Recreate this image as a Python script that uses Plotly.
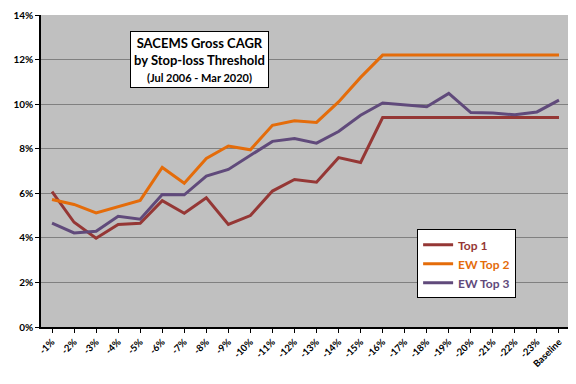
import plotly.graph_objects as go

categories = ["-1%", "-2%", "-3%", "-4%", "-5%", "-6%", "-7%", "-8%", "-9%", "-10%",
              "-11%", "-12%", "-13%", "-14%", "-15%", "-16%", "-17%", "-18%", "-19%",
              "-20%", "-21%", "-22%", "-23%", "Baseline"]

top1 = [6.07, 4.70, 3.98, 4.60, 4.65, 5.67, 5.10, 5.80, 4.60, 5.00,
        6.10, 6.62, 6.50, 7.60, 7.38, 9.40, 9.40, 9.40, 9.40,
        9.40, 9.40, 9.40, 9.40, 9.40]
ew_top2 = [5.72, 5.50, 5.12, 5.40, 5.68, 7.16, 6.45, 7.56, 8.12, 7.95,
           9.05, 9.25, 9.18, 10.10, 11.20, 12.20, 12.20, 12.20, 12.20,
           12.20, 12.20, 12.20, 12.20, 12.20]
ew_top3 = [4.66, 4.22, 4.30, 4.97, 4.84, 5.95, 5.93, 6.77, 7.07, 7.70,
           8.33, 8.46, 8.25, 8.77, 9.50, 10.05, 9.97, 9.88, 10.48,
           9.62, 9.60, 9.52, 9.65, 10.18]

series = [("Top 1", top1, "#953735"), ("EW Top 2", ew_top2, "#E46C0A"), ("EW Top 3", ew_top3, "#604A7B")]

font_fam = "Lato, Open Sans, sans-serif"

fig = go.Figure()
for name, vals, col in series:
    fig.add_trace(go.Scatter(x=categories, y=[v / 100 for v in vals], mode="lines",
                             name=f"<b><span style='color:{col}'>{name}</span></b>",
                             line=dict(color=col, width=3)))

fig.update_layout(
    width=576, height=384,
    margin=dict(l=33, r=14, t=7, b=65, autoexpand=False),
    paper_bgcolor="white", plot_bgcolor="#C0C0C0",
    font=dict(family=font_fam, color="black"),
    showlegend=True,
    legend=dict(x=0.711, y=0.313, xanchor="left", yanchor="top",
                bgcolor="white", bordercolor="black", borderwidth=1,
                font=dict(size=12, family=font_fam),
                itemwidth=30, tracegroupgap=4),
    xaxis=dict(type="category", tickangle=-45, tickfont=dict(size=9.5, family=font_fam),
               showline=True, linecolor="black", linewidth=1.5, ticks="outside", ticklen=4,
               tickcolor="black", showgrid=False, range=[-0.5, 23.5], automargin=False,
               tickprefix="<b>", ticksuffix="</b>"),
    yaxis=dict(range=[0, 0.14], dtick=0.02, tickformat=".0%", tickfont=dict(size=10, family=font_fam),
               showline=True, linecolor="black", linewidth=1.5, ticks="outside", ticklen=4,
               tickcolor="black", gridcolor="#808080", gridwidth=1, zeroline=False, automargin=False,
               tickprefix="<b>", ticksuffix="</b>"),
    annotations=[dict(
        x=0.30, y=0.95, xref="paper", yref="paper", xanchor="center", yanchor="top",
        text="<b>SACEMS Gross CAGR<br>by Stop-loss Threshold</b><br><span style='font-size:11px'><b>(Jul 2006 - Mar 2020)</b></span>",
        showarrow=False, bgcolor="white", bordercolor="black", borderwidth=1, borderpad=3,
        font=dict(size=13, family=font_fam, color="black"), align="center")],
)

fig.write_html("out.html")
